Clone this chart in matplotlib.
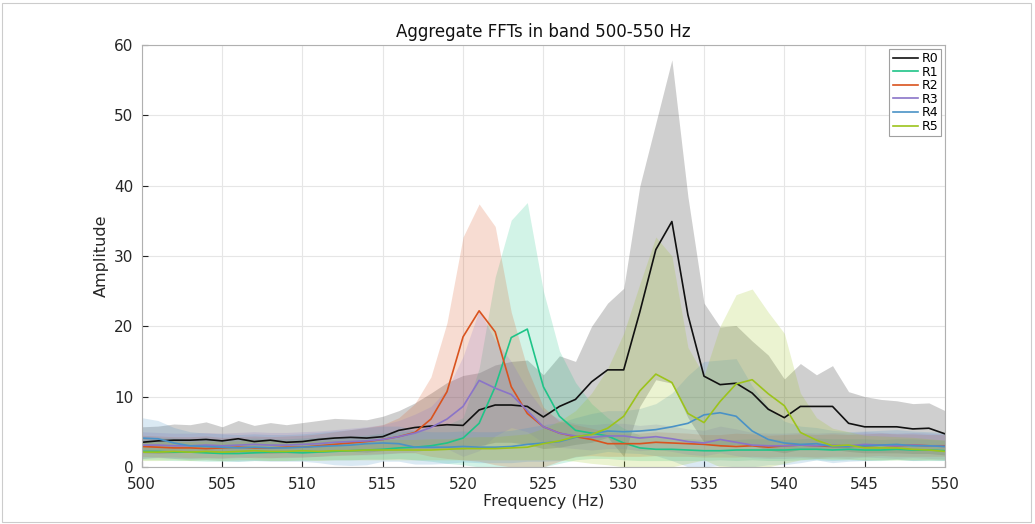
import numpy as np
import matplotlib
matplotlib.use('Agg')
from matplotlib import pyplot as plt

# frequency grid (Hz)
freq = np.arange(500, 551)

names = ['R0', 'R1', 'R2', 'R3', 'R4', 'R5']
colors = ['#111111', '#1fc488', '#d9531e', '#8a74c8', '#4a92c6', '#9cc31b']

# mean amplitude per series
r0 = [3.5, 3.7, 3.8, 3.8, 3.9, 3.7, 4.0, 3.6, 3.8, 3.5, 3.6, 3.9, 4.1, 4.2, 4.1, 4.3, 5.2, 5.6, 5.8, 6.0,
      5.9, 8.1, 8.8, 8.8, 8.6, 7.1, 8.6, 9.6, 12.1, 13.8, 13.8, 22.0, 30.9, 34.9, 21.6, 12.9, 11.7, 11.9, 10.5, 8.2,
      7.0, 8.6, 8.6, 8.6, 6.2, 5.7, 5.7, 5.7, 5.4, 5.5, 4.7]
r1 = [2.2, 2.2, 2.1, 2.1, 2.0, 1.9, 1.9, 2.0, 2.1, 2.1, 2.0, 2.1, 2.2, 2.3, 2.4, 2.5, 2.7, 2.8, 3.0, 3.4,
      4.1, 6.2, 11.4, 18.4, 19.6, 11.4, 7.2, 5.2, 4.8, 4.4, 3.4, 2.7, 2.5, 2.5, 2.4, 2.3, 2.3, 2.4, 2.4, 2.4,
      2.4, 2.5, 2.5, 2.4, 2.5, 2.4, 2.4, 2.5, 2.4, 2.4, 2.3]
r2 = [2.9, 2.8, 2.7, 2.7, 2.6, 2.7, 2.8, 2.7, 2.7, 2.8, 2.8, 3.0, 3.2, 3.4, 3.6, 3.9, 4.3, 4.9, 6.8, 10.7,
      18.5, 22.2, 19.2, 11.4, 7.6, 5.7, 4.8, 4.3, 3.9, 3.3, 3.3, 3.3, 3.5, 3.4, 3.3, 3.2, 3.0, 2.9, 3.0, 2.8,
      3.0, 3.1, 3.0, 2.9, 2.9, 3.0, 3.1, 3.0, 3.1, 3.0, 3.0]
r3 = [3.1, 3.1, 3.0, 3.0, 3.1, 3.0, 3.1, 3.2, 3.1, 3.1, 3.2, 3.3, 3.5, 3.6, 3.7, 3.9, 4.3, 4.8, 5.6, 6.8,
      8.6, 12.3, 11.2, 10.3, 8.0, 5.7, 4.8, 4.4, 4.2, 4.4, 4.4, 4.1, 4.3, 4.0, 3.6, 3.4, 3.9, 3.5, 3.1, 3.0,
      3.0, 3.1, 3.0, 3.1, 3.0, 3.2, 3.1, 3.0, 3.1, 3.0, 2.9]
r4 = [4.1, 4.0, 3.4, 3.0, 2.9, 2.8, 2.7, 2.8, 2.7, 2.7, 2.8, 2.9, 3.0, 3.1, 3.3, 3.4, 3.3, 2.8, 2.8, 2.8,
      2.9, 2.8, 2.8, 2.9, 3.2, 3.4, 3.6, 4.2, 4.7, 5.1, 5.0, 5.1, 5.3, 5.7, 6.2, 7.4, 7.7, 7.2, 5.1, 3.9,
      3.4, 3.2, 3.3, 2.9, 2.9, 3.0, 3.1, 3.2, 3.0, 3.0, 2.9]
r5 = [2.1, 2.1, 2.2, 2.1, 2.2, 2.1, 2.2, 2.3, 2.2, 2.2, 2.3, 2.2, 2.3, 2.3, 2.4, 2.4, 2.4, 2.4, 2.4, 2.5,
      2.6, 2.6, 2.6, 2.7, 2.8, 3.3, 3.7, 4.3, 4.6, 5.5, 7.2, 10.8, 13.2, 12.0, 7.6, 6.3, 9.3, 11.8, 12.4, 10.4,
      8.7, 4.9, 3.8, 3.0, 3.1, 2.7, 2.7, 2.7, 2.5, 2.4, 2.2]

# upper edge of shaded band
r0_hi = [5.7, 5.8, 6.1, 6.0, 6.4, 5.7, 6.6, 5.9, 6.3, 6.0, 6.3, 6.6, 6.9, 6.8, 6.7, 7.2, 8.0, 9.1, 10.5, 12.0,
         13.0, 13.4, 14.5, 15.0, 15.2, 13.1, 15.8, 15.0, 20.0, 23.3, 25.4, 39.9, 48.9, 57.9, 38.4, 23.3, 19.9, 20.1, 17.9, 15.9,
         12.5, 14.7, 13.1, 14.4, 10.7, 10.0, 9.6, 9.4, 9.0, 9.1, 8.0]
r1_hi = [4.0, 4.2, 4.1, 4.0, 4.1, 3.9, 4.0, 4.1, 4.0, 4.0, 4.1, 4.2, 4.3, 4.4, 4.5, 4.8, 5.0, 5.2, 5.5, 6.0,
         7.0, 14.0, 27.0, 35.1, 37.6, 25.0, 16.5, 12.0, 9.0, 7.0, 5.5, 4.5, 4.2, 4.0, 4.0, 3.9, 3.8, 3.9, 4.0, 4.0,
         3.9, 4.0, 4.1, 4.0, 4.0, 4.0, 3.9, 4.0, 4.0, 3.9, 3.8]
r2_hi = [4.5, 4.4, 4.3, 4.3, 4.4, 4.2, 4.3, 4.4, 4.3, 4.4, 4.5, 4.7, 5.0, 5.3, 5.6, 6.0, 7.0, 9.0, 12.8, 20.5,
         32.7, 37.4, 34.2, 22.0, 14.0, 8.5, 6.5, 6.0, 5.5, 5.0, 4.8, 4.8, 5.0, 4.9, 4.8, 4.6, 4.6, 4.8, 4.7, 4.5,
         4.6, 4.7, 4.6, 4.7, 4.6, 4.7, 4.8, 4.7, 4.7, 4.6, 4.6]
r3_hi = [5.0, 4.9, 4.8, 4.8, 4.9, 4.8, 4.9, 5.0, 4.9, 4.9, 5.0, 5.1, 5.3, 5.5, 5.7, 6.0, 6.6, 7.5, 8.6, 11.0,
         15.7, 22.3, 18.0, 15.0, 11.0, 8.0, 6.8, 6.2, 6.0, 6.2, 6.2, 5.9, 6.1, 5.8, 5.4, 5.2, 5.8, 5.4, 4.9, 4.8,
         4.8, 4.9, 4.8, 4.9, 4.8, 5.0, 4.9, 4.8, 4.9, 4.8, 4.7]
r4_hi = [7.0, 6.6, 5.6, 5.0, 4.8, 4.7, 4.6, 4.7, 4.6, 4.6, 4.7, 4.9, 5.1, 5.3, 5.6, 5.8, 5.8, 5.2, 5.0, 5.0,
         5.1, 5.0, 5.0, 5.2, 5.6, 6.0, 6.3, 7.0, 7.6, 8.0, 8.0, 8.3, 9.0, 10.5, 13.0, 15.0, 15.2, 15.4, 11.5, 8.5,
         6.5, 5.8, 5.6, 5.2, 5.0, 5.1, 5.2, 5.3, 5.1, 5.0, 4.9]
r5_hi = [3.6, 3.6, 3.7, 3.6, 3.7, 3.6, 3.7, 3.8, 3.7, 3.7, 3.8, 3.7, 3.8, 3.8, 3.9, 3.9, 3.9, 3.9, 4.0, 4.0,
         4.2, 4.3, 4.3, 4.5, 4.7, 5.5, 6.5, 8.0, 10.5, 14.0, 19.0, 26.0, 32.7, 30.0, 17.0, 13.0, 20.0, 24.5, 25.3, 22.0,
         19.0, 10.5, 7.0, 5.5, 5.0, 4.5, 4.4, 4.3, 4.2, 4.0, 3.8]

# lower edge of shaded band
r0_lo = [2.0, 1.9, 2.0, 2.1, 2.0, 1.9, 2.1, 2.0, 1.9, 2.0, 2.0, 2.1, 2.2, 2.2, 2.1, 2.3, 2.5, 2.6, 2.6, 2.7,
         2.5, 3.0, 3.5, 3.5, 3.2, 2.6, 2.8, 3.2, 3.5, 4.2, 1.5, 8.6, 12.4, 11.9, 7.0, 3.5, 3.0, 3.2, 3.0, 2.4,
         2.0, 2.5, 2.6, 2.5, 2.2, 2.0, 2.0, 2.0, 1.9, 1.9, 1.7]
r1_lo = [1.0, 1.0, 0.9, 0.9, 0.8, 0.8, 0.8, 0.9, 0.9, 0.9, 0.9, 1.0, 1.0, 1.0, 1.1, 1.1, 1.2, 1.0, 0.8, 0.5,
         0.3, 0.0, 0.0, 0.0, 0.0, 0.0, 0.5, 1.0, 1.2, 1.2, 1.0, 0.9, 0.9, 0.9, 0.9, 0.9, 1.0, 0.9, 1.0, 0.9,
         0.9, 1.0, 1.0, 0.9, 1.0, 0.9, 0.9, 1.0, 0.9, 0.9, 0.9]
r2_lo = [1.5, 1.4, 1.4, 1.3, 1.3, 1.3, 1.4, 1.3, 1.3, 1.4, 1.4, 1.5, 1.6, 1.7, 1.8, 1.9, 2.0, 2.0, 1.5, 1.2,
         1.0, 0.8, 0.3, 0.0, 0.0, 0.0, 0.8, 1.5, 1.6, 1.5, 1.5, 1.5, 1.6, 1.5, 1.5, 1.4, 1.4, 1.4, 1.5, 1.4,
         1.5, 1.5, 1.4, 1.5, 1.5, 1.5, 1.6, 1.5, 1.5, 1.5, 1.5]
r3_lo = [1.2, 1.3, 1.2, 1.2, 1.3, 1.2, 1.3, 1.4, 1.3, 1.3, 1.4, 1.5, 1.7, 1.7, 1.7, 1.8, 2.0, 2.1, 2.6, 2.6,
         1.5, 2.3, 4.4, 5.6, 5.0, 3.4, 2.8, 2.6, 2.4, 2.6, 2.6, 2.3, 2.5, 2.2, 1.8, 1.6, 2.0, 1.6, 1.3, 1.2,
         1.2, 1.3, 1.2, 1.3, 1.2, 1.4, 1.3, 1.2, 1.3, 1.2, 1.1]
r4_lo = [1.2, 1.4, 1.2, 1.0, 1.0, 0.9, 0.8, 0.9, 0.8, 0.8, 0.8, 0.6, 0.3, 0.2, 0.3, 0.8, 0.8, 0.4, 0.4, 0.5,
         0.7, 0.6, 0.6, 0.6, 0.8, 0.8, 0.9, 1.4, 1.8, 2.2, 2.0, 1.9, 1.6, 0.9, 0.0, 0.0, 0.2, 0.0, 0.0, 0.3,
         0.3, 0.6, 1.0, 0.6, 0.8, 0.9, 1.0, 1.1, 0.9, 1.0, 0.9]
r5_lo = [0.9, 0.9, 1.0, 0.9, 1.0, 0.9, 1.0, 1.0, 0.9, 0.9, 1.0, 0.9, 1.0, 1.0, 1.0, 1.0, 1.0, 1.0, 1.0, 1.0,
         1.0, 1.0, 1.0, 1.0, 1.0, 1.0, 1.0, 0.8, 0.5, 0.3, 0.0, 0.0, 0.0, 0.0, 0.5, 1.0, 0.0, 0.0, 0.0, 0.0,
         0.5, 1.0, 1.2, 1.1, 1.1, 1.0, 1.0, 1.0, 1.0, 1.0, 1.0]

means = [r0, r1, r2, r3, r4, r5]
highs = [r0_hi, r1_hi, r2_hi, r3_hi, r4_hi, r5_hi]
lows = [r0_lo, r1_lo, r2_lo, r3_lo, r4_lo, r5_lo]

fig = plt.figure(figsize=(10.35, 5.24), dpi=100)
ax = fig.add_axes([0.137, 0.109, 0.776, 0.805])

# bands first, then the mean lines on top
for c, lo, hi in zip(colors, lows, highs):
    ax.fill_between(freq, lo, hi, color=c, alpha=0.2, linewidth=0)
for name, c, m in zip(names, colors, means):
    ax.plot(freq, m, color=c, linewidth=1.2, label=name)

ax.set_xlim(500, 550)
ax.set_ylim(0, 60)
ax.set_xticks(np.arange(500, 551, 5))
ax.set_yticks(np.arange(0, 61, 10))
ax.grid(True, color='#e6e6e6', linewidth=0.8)
ax.set_axisbelow(True)
ax.tick_params(direction='in', length=4, labelsize=11, colors='#262626')
ax.tick_params(axis='x', pad=7)
ax.tick_params(axis='y', pad=6)
for s in ax.spines.values():
    s.set_color('#b0b0b0')
    s.set_linewidth(0.8)

ax.set_title('Aggregate FFTs in band 500-550 Hz', fontsize=12, color='#111111', pad=6)
ax.set_xlabel('Frequency (Hz)', fontsize=11.5, color='#262626', labelpad=2)
ax.set_ylabel('Amplitude', fontsize=11.5, color='#262626')

leg = ax.legend(loc='upper right', fontsize=9, handlelength=2.0, handletextpad=0.3,
                borderpad=0.25, labelspacing=0.05, fancybox=False, framealpha=1,
                borderaxespad=0.3)
leg.get_frame().set_edgecolor('#a0a0a0')
leg.get_frame().set_linewidth(0.8)

# faint frame around the whole figure
fig.patches.append(plt.Rectangle((0.002, 0.004), 0.994, 0.99, transform=fig.transFigure,
                                 fill=False, edgecolor='#cccccc', linewidth=0.8))

plt.savefig('out.png', dpi=100)
